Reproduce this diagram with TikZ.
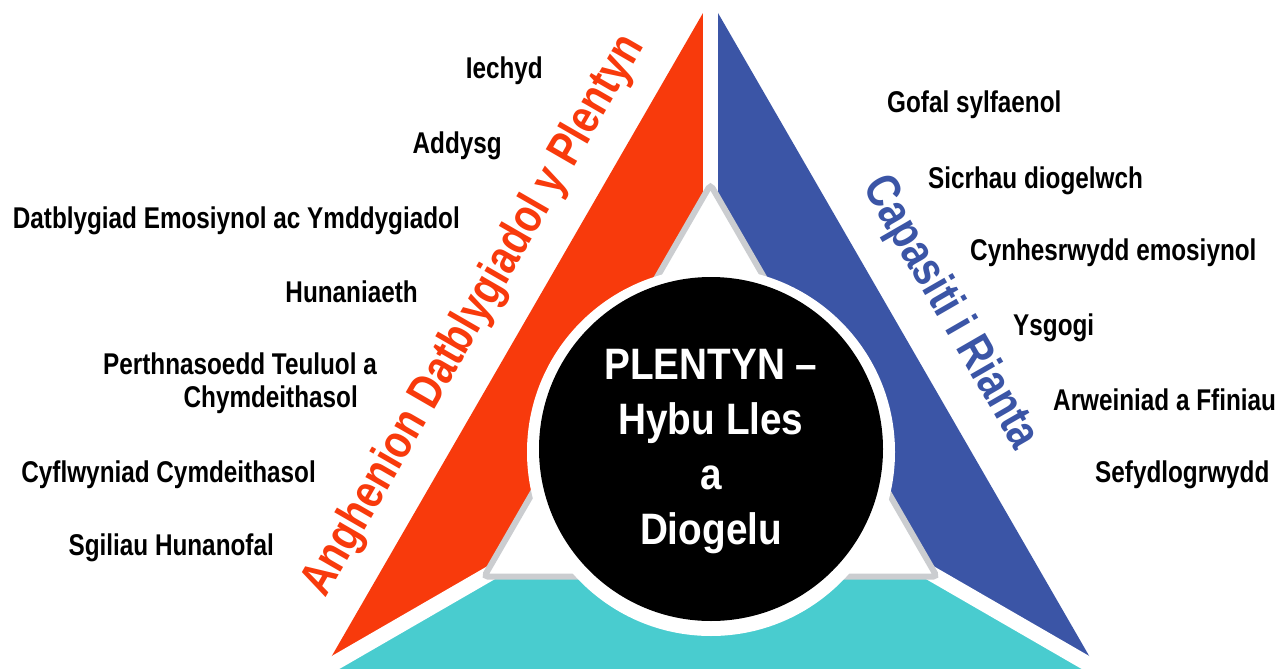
\documentclass[tikz,border=0pt]{standalone}
\usepackage{fontspec}
\usetikzlibrary{calc}
\setmainfont{Liberation Sans}
\newfontfamily\labfont[FakeStretch=0.81]{Liberation Sans}
\newfontfamily\rotfont[FakeStretch=0.82]{Liberation Sans}
\newfontfamily\ctrfont[FakeStretch=0.88]{Liberation Sans}
\definecolor{tred}{RGB}{248,58,12}
\definecolor{tblue}{RGB}{59,85,166}
\definecolor{tcyan}{RGB}{73,204,207}
\definecolor{tgray}{RGB}{203,205,208}
\begin{document}
\begin{tikzpicture}[x=1pt,y=-1pt,
  lab/.style={font={\labfont\bfseries\fontsize{30}{33}\selectfont}, inner sep=0pt},
  rotlab/.style={font={\rotfont\bfseries\fontsize{48}{50}\selectfont}, inner sep=0pt},
  ctr/.style={font={\ctrfont\bfseries\fontsize{44}{55}\selectfont}, text=white, align=center, inner sep=0pt},
  gap/.style={draw=white, line width=15pt}]
\useasboundingbox (0,0) rectangle (1286,669);
\fill[white] (0,0) rectangle (1286,669);
% outer triangle
\coordinate (A) at (710.5,0);
\coordinate (BL) at (324.3,669);
\coordinate (BR) at (1096.7,669);
\coordinate (G) at (710.5,446);
\fill[tred] (A) -- (BL) -- (G) -- cycle;
\fill[tblue] (A) -- (BR) -- (G) -- cycle;
\fill[tcyan] (BL) -- (BR) -- (G) -- cycle;
% white gaps
\coordinate (Atop) at (710.5,-10);
\draw[gap] (Atop) -- (G);
\draw[gap] ($(BL)!-0.1!(G)$) -- (G);
\draw[gap] ($(BR)!-0.1!(G)$) -- (G);
% inner triangle
\coordinate (IA) at (710.5,184.6);
\coordinate (IL) at (484.1,576.7);
\coordinate (IR) at (936.9,576.7);
\draw[fill=white, draw=tgray, line width=6pt, rounded corners=4pt] (IA) -- (IL) -- (IR) -- cycle;
% central circle
\fill[white] (711,452) circle[radius=184];
\node[circle, fill=black, minimum size=344pt, inner sep=0pt] (core) at (711,449) {};
\node[ctr] (ctext) at (711,452) {PLENTYN –\\Hybu Lles\\a\\Diogelu};
% rotated titles
\node[rotlab, text=tred, rotate=60] (tleft) at (474,316) {Anghenion Datblygiadol y Plentyn};
\node[rotlab, text=tblue, rotate=-60] (tright) at (950,313) {Capasiti i Rianta};
% left labels
\node[lab, anchor=base east] (l1) at (543,79) {Iechyd};
\node[lab, anchor=base east] (l2) at (502,153) {Addysg};
\node[lab, anchor=base east] (l3) at (460,228) {Datblygiad Emosiynol ac Ymddygiadol};
\node[lab, anchor=base east] (l4) at (418,302) {Hunaniaeth};
\node[lab, anchor=base east, align=right] (l5) at (377,407) {Perthnasoedd Teuluol a\\Chymdeithasol\hspace*{19pt}};
\node[lab, anchor=base east] (l6) at (316,482) {Cyflwyniad Cymdeithasol};
\node[lab, anchor=base east] (l7) at (274,555) {Sgiliau Hunanofal};
% right labels
\node[lab, anchor=base west] (r1) at (887,113) {Gofal sylfaenol};
\node[lab, anchor=base west] (r2) at (928,188) {Sicrhau diogelwch};
\node[lab, anchor=base west] (r3) at (970,260) {Cynhesrwydd emosiynol};
\node[lab, anchor=base west] (r4) at (1013,335) {Ysgogi};
\node[lab, anchor=base west] (r5) at (1053,410) {Arweiniad a Ffiniau};
\node[lab, anchor=base west] (r6) at (1095,482) {Sefydlogrwydd};
\end{tikzpicture}
\end{document}
